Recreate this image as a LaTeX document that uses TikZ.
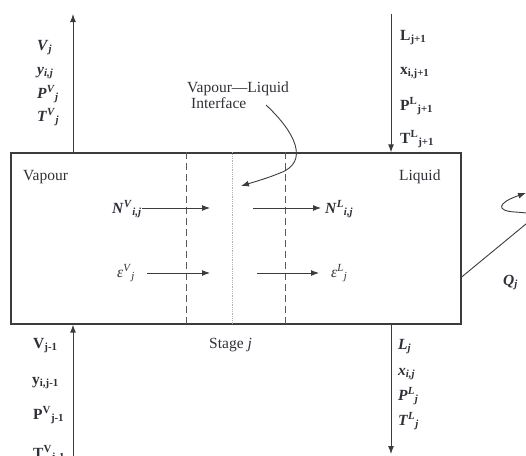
\documentclass[tikz,border=0pt]{standalone}
\usepackage{fontspec}
\setmainfont{Liberation Serif}
\usetikzlibrary{arrows.meta}
\definecolor{linecol}{HTML}{3C3C3C}
\definecolor{txtcol}{HTML}{2E3038}
\definecolor{dashcol}{HTML}{5A5A5A}
\newcommand{\bi}[1]{\textbf{\textit{#1}}}
\newcommand{\lsb}[1]{\textsubscript{#1}}
\newcommand{\lsp}[1]{\textsuperscript{#1}}
\begin{document}
\begin{tikzpicture}[x=1pt,y=-1pt,
  lab/.style={anchor=base west, inner sep=0pt, text=txtcol, font=\fontsize{15.5}{17}\selectfont},
  stream/.style={draw=linecol, line width=1pt, -{Latex[length=8pt,width=6pt]}},
  flux/.style={draw=linecol, line width=0.9pt, -{Latex[length=8pt,width=6pt]}},
  boxstyle/.style={draw=linecol, line width=1.3pt, inner sep=0pt, minimum width=450pt, minimum height=171pt},
  film/.style={draw=dashcol, line width=0.9pt, dash pattern=on 7pt off 4pt},
  iface/.style={draw=gray!60, line width=0.8pt, densely dotted}
]
\useasboundingbox (0,0) rectangle (526,455);
\clip (0,0) rectangle (526,455);

% stage box
\node[boxstyle] (box) at (236,238.5) {};

% vertical streams
\coordinate (vtop) at (73,14);
\coordinate (ltop) at (391,14);
\coordinate (vbot) at (73,462);
\coordinate (lbot) at (391,454);
\draw[stream] (box.north -| vtop) -- (vtop);
\draw[stream] (ltop) -- (box.north -| ltop);
\draw[stream] (vbot) -- (box.south -| vbot);
\draw[stream] (box.south -| lbot) -- (lbot);

% film lines
\coordinate (d1) at (186,0);
\coordinate (d2) at (285,0);
\coordinate (d0) at (232,0);
\draw[film] (box.north -| d1) -- (box.south -| d1);
\draw[film] (box.north -| d2) -- (box.south -| d2);
\draw[iface] (box.north -| d0) -- (box.south -| d0);

% top-left labels
\node[lab] (vj) at (37,50) {\bi{V}\lsb{\bi{j}}};
\node[lab] (yij) at (37,74) {\bi{y}\lsb{\bi{i,j}}};
\node[lab] (pvj) at (37,98) {\bi{P}\lsp{\bi{V}}\lsb{\bi{j}}};
\node[lab] (tvj) at (37,121) {\bi{T}\lsp{\bi{V}}\lsb{\bi{j}}};

% top-right labels
\node[lab] (lj1) at (400,40) {\textbf{L}\lsb{\textbf{j+1}}};
\node[lab] (xij1) at (400,74) {\textbf{x}\lsb{\textbf{i,j+1}}};
\node[lab] (plj1) at (400,110) {\textbf{P}\lsp{\textbf{L}}\lsb{\textbf{j+1}}};
\node[lab] (tlj1) at (400,143) {\textbf{T}\lsp{\textbf{L}}\lsb{\textbf{j+1}}};

% bottom-left labels
\node[lab] (vj0) at (33,348) {\textbf{V}\lsb{\textbf{j-1}}};
\node[lab] (yij0) at (32,384) {\textbf{y}\lsb{\textbf{i,j-1}}};
\node[lab] (pvj0) at (33,419) {\textbf{P}\lsp{\textbf{V}}\lsb{\textbf{j-1}}};
\node[lab] (tvj0) at (33,458) {\textbf{T}\lsp{\textbf{V}}\lsb{\textbf{j-1}}};

% bottom-right labels
\node[lab] (lj) at (398,349) {\bi{L}\lsb{\bi{j}}};
\node[lab] (xij) at (398,375) {\bi{x}\lsb{\bi{i,j}}};
\node[lab] (plj) at (398,400) {\bi{P}\lsp{\bi{L}}\lsb{\bi{j}}};
\node[lab] (tlj) at (398,425) {\bi{T}\lsp{\bi{L}}\lsb{\bi{j}}};

% inside labels
\node[lab] (vap) at (23,180) {Vapour};
\node[lab] (liq) at (399,180) {Liquid};
\node[lab] (stage) at (209,348) {Stage \textit{j}};
\node[lab] (ifl1) at (187,92) {Vapour—Liquid};
\node[lab] (ifl2) at (191,108) {Interface};

% fluxes
\node[lab] (nv) at (112,213) {\bi{N}\lsp{\bi{V}}\lsb{\bi{i,j}}};
\node[lab] (nl) at (325,213) {\bi{N}\lsp{\bi{L}}\lsb{\bi{i,j}}};
\node[lab] (ev) at (117,277) {\textit{ε}\lsp{\textit{V}}\lsb{\textit{j}}};
\node[lab] (el) at (331,277) {\textit{ε}\lsp{\textit{L}}\lsb{\textit{j}}};
\coordinate (n1s) at (142,208); \coordinate (n1e) at (210,208);
\coordinate (n2s) at (253,208); \coordinate (n2e) at (321,208);
\coordinate (e1s) at (147,273); \coordinate (e1e) at (210,273);
\coordinate (e2s) at (257,273); \coordinate (e2e) at (319,273);
\draw[flux] (n1s) -- (n1e);
\draw[flux] (n2s) -- (n2e);
\draw[flux] (e1s) -- (e1e);
\draw[flux] (e2s) -- (e2e);

% interface pointer
\coordinate (ip0) at (266,105);
\coordinate (ip1) at (241,186);
\draw[flux] (ip0) .. controls (295,132) and (310,162) .. (280,173) .. controls (268,178) and (254,182) .. (ip1);

% heat duty
\node[lab] (qj) at (503,285) {\bi{Q}\lsb{\bi{j}}};
\coordinate (q0) at (box.east |- 0,277);
\coordinate (q1) at (526,193);
\draw[flux] (q0) -- (532,219) .. controls (538,214) and (530,213) .. (515,212) .. controls (496,211) and (497,203) .. (q1);
\end{tikzpicture}
\end{document}
